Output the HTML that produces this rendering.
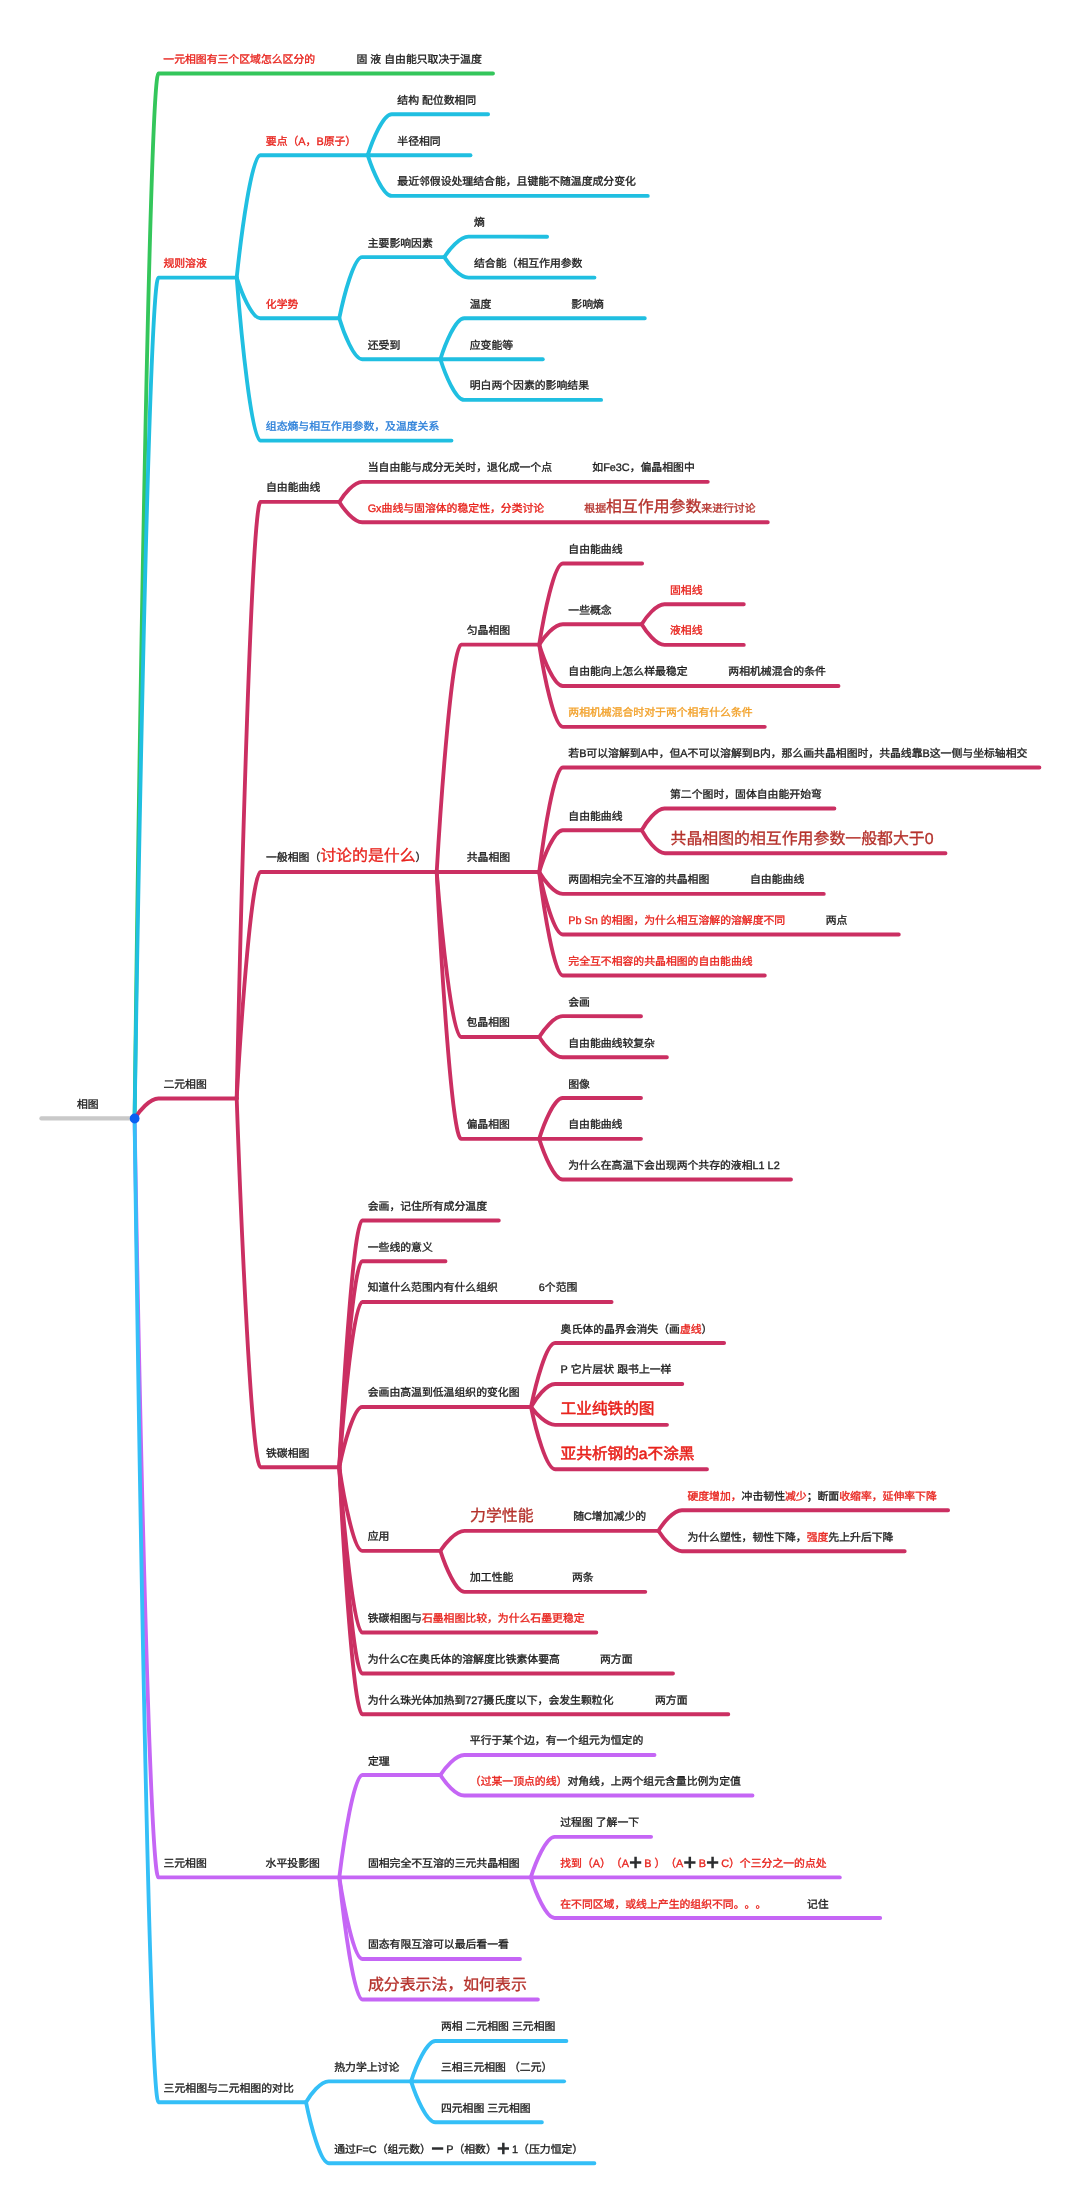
<!DOCTYPE html>
<html lang="zh-CN">
<head>
<meta charset="utf-8">
<title>相图</title>
<style>
html,body{margin:0;padding:0;background:#fff}
body{width:1080px;height:2204px;position:relative;overflow:hidden;font-family:"Liberation Sans",sans-serif;font-size:10.85px;color:#1c1c1c;text-rendering:geometricPrecision;text-spacing-trim:space-all;font-kerning:none}
svg{position:absolute;left:0;top:0}
#labels{position:absolute;left:0;top:0;width:1080px;height:2204px;will-change:transform}
path{fill:none;stroke-width:3.85;stroke-linecap:round;stroke-linejoin:round}
.t{position:absolute;white-space:nowrap;text-align-last:justify;height:24px;line-height:24px;-webkit-text-stroke:.33px currentColor}
.t span{line-height:1px}
.g{font-size:15.9px}
.t span.b{font-size:15.65px;-webkit-text-stroke:.55px currentColor}
.t span.s{display:inline-block;width:15.3px;text-align:center;font-weight:bold;font-size:22.5px;position:relative;top:3.6px;-webkit-text-stroke:0;color:#2b2d2f}
.r{color:#e8231d}.d{color:#b5322c}.u{color:#2b7fd9}.o{color:#f2a12a}.k{color:#1c1c1c}
</style>
</head>
<body>
<svg width="1080" height="2204" viewBox="0 0 1080 2204">
<g stroke="#34c65b">
<path d="M134.6 1118.5C139.2 742.3 149.7 73.5 158.4 73.5H493"/>
</g>
<g stroke="#20bfe1">
<path d="M134.6 1118.5C139.2 815.7 149.7 277.6 158.4 277.6H236.7"/>
<path d="M236.7 277.6C241.3 233.5 251.7 155.2 260.3 155.2H367.7"/>
<path d="M367.7 155.2C372.4 140.5 383 114.2 391.8 114.2H488.1"/>
<path d="M367.7 155.2L391.8 155.2H470.5"/>
<path d="M367.7 155.2C372.4 169.9 383 195.9 391.8 195.9H647.8"/>
<path d="M236.7 277.6C241.3 292.2 251.7 318.2 260.3 318.2H339.3"/>
<path d="M339.3 318.2C343.7 296.3 353.9 257.1 362.2 257.1H444.3"/>
<path d="M444.3 257.1C449 249.8 459.7 236.7 468.5 236.7H547.1"/>
<path d="M444.3 257.1C449 264.5 459.7 277.6 468.5 277.6H594.5"/>
<path d="M339.3 318.2C343.7 333 353.9 359.2 362.2 359.2H440.4"/>
<path d="M440.4 359.2C445 344.5 455.5 318.2 464.2 318.2H644.8"/>
<path d="M440.4 359.2L464.2 359.2H542.8"/>
<path d="M440.4 359.2C445 373.9 455.5 399.9 464.2 399.9H601.1"/>
<path d="M236.7 277.6C241.3 336.3 251.7 440.6 260.3 440.6H451.5"/>
</g>
<g stroke="#cb2f62">
<path d="M134.6 1118.5C139.2 1111.2 149.7 1098.5 158.4 1098.5H236.7"/>
<path d="M236.7 1098.5C241.3 883.7 251.8 501.9 260.5 501.9H339.3"/>
<path d="M339.3 501.9C343.7 494.7 353.9 481.8 362.2 481.8H707.8"/>
<path d="M339.3 501.9C343.7 509.3 353.9 522.2 362.2 522.2H767.8"/>
<path d="M236.7 1098.5C241.3 1016.9 251.8 872 260.5 872H436.7"/>
<path d="M436.7 872C441.5 790.1 452.3 644.6 461.2 644.6H539.2"/>
<path d="M539.2 644.6C543.8 615.5 554.2 563.5 562.8 563.5H642.1"/>
<path d="M539.2 644.6C543.8 637.3 554.2 624.2 562.8 624.2H641.7"/>
<path d="M641.7 624.2C646.1 617 656.2 604.2 664.5 604.2H743.8"/>
<path d="M641.7 624.2C646.1 631.7 656.2 644.9 664.5 644.9H743.8"/>
<path d="M539.2 644.6C543.8 659.6 554.2 686 562.8 686H838.5"/>
<path d="M539.2 644.6C543.8 674.2 554.2 726.8 562.8 726.8H764.8"/>
<path d="M436.7 872L461.2 872H539.2"/>
<path d="M539.2 872C543.8 834.4 554.2 767.5 562.8 767.5H1039.4"/>
<path d="M539.2 872C543.8 856.9 554.2 830.2 562.8 830.2H641.7"/>
<path d="M641.7 830.2C646.1 822.4 656.2 808.5 664.5 808.5H834.4"/>
<path d="M641.7 830.2C646.2 838.5 656.5 853.2 665 853.2H945.5"/>
<path d="M539.2 872C543.8 879.8 554.2 893.9 562.8 893.9H823.8"/>
<path d="M539.2 872C543.8 894.5 554.2 934.5 562.8 934.5H898.8"/>
<path d="M539.2 872C543.8 909.2 554.2 975.5 562.8 975.5H764.8"/>
<path d="M436.7 872C441.4 931.4 452.2 1037 461 1037H539.2"/>
<path d="M539.2 1037C543.8 1029.5 554.1 1016.2 562.7 1016.2H641"/>
<path d="M539.2 1037C543.8 1044.3 554.1 1057.2 562.7 1057.2H666.9"/>
<path d="M436.7 872C441.4 968 452.2 1138.8 461 1138.8H539.2"/>
<path d="M539.2 1138.8C543.8 1124.1 554.1 1098 562.7 1098H641"/>
<path d="M539.2 1138.8L562.7 1138.8H641"/>
<path d="M539.2 1138.8C543.8 1153.4 554.1 1179.5 562.7 1179.5H791"/>
<path d="M236.7 1098.5C241.3 1231.2 251.8 1467.2 260.5 1467.2H339.3"/>
<path d="M339.3 1467.2C343.7 1378.4 353.9 1220.5 362.2 1220.5H498.8"/>
<path d="M339.3 1467.2C343.7 1393.1 353.9 1261.2 362.2 1261.2H445.5"/>
<path d="M339.3 1467.2C343.7 1407.7 353.9 1302 362.2 1302H611.6"/>
<path d="M339.3 1467.2C343.7 1445.5 353.9 1407 362.2 1407H531"/>
<path d="M531 1407C535.7 1383.9 546.3 1343 555.1 1343H724.1"/>
<path d="M531 1407C535.7 1398.7 546.3 1384 555.1 1384H682.3"/>
<path d="M531 1407C535.7 1413.4 546.3 1424.8 555.1 1424.8H667"/>
<path d="M531 1407C535.7 1429.4 546.3 1469.2 555.1 1469.2H707"/>
<path d="M339.3 1467.2C343.7 1497.3 353.9 1550.8 362.2 1550.8H440.4"/>
<path d="M440.4 1550.8C445.1 1543.5 455.7 1530.8 464.5 1530.8H658.4"/>
<path d="M658.4 1530.8C663 1523.4 673.3 1510.2 681.9 1510.2H948.1"/>
<path d="M658.4 1530.8C663 1538.1 673.3 1551.2 681.9 1551.2H904.7"/>
<path d="M440.4 1550.8C445.1 1565.5 455.7 1591.8 464.5 1591.8H645.3"/>
<path d="M339.3 1467.2C343.7 1526.7 353.9 1632.5 362.2 1632.5H596.3"/>
<path d="M339.3 1467.2C343.7 1541.5 353.9 1673.5 362.2 1673.5H673"/>
<path d="M339.3 1467.2C343.7 1556.2 353.9 1714.2 362.2 1714.2H728.3"/>
</g>
<g stroke="#c566f5">
<path d="M134.6 1118.5C139.2 1391.7 149.7 1877.4 158.4 1877.4H339.3"/>
<path d="M339.3 1877.4C343.8 1840.6 354 1775 362.4 1775H440.4"/>
<path d="M440.4 1775C445 1767.8 455.6 1755 464.3 1755H654.5"/>
<path d="M440.4 1775C445 1782.4 455.6 1795.5 464.3 1795.5H752.5"/>
<path d="M339.3 1877.4L362.4 1877.4H530.8"/>
<path d="M530.8 1877.4C535.4 1862.8 546 1836.8 554.7 1836.8H651.1"/>
<path d="M530.8 1877.4L554.7 1877.4H839.8"/>
<path d="M530.8 1877.4C535.4 1892 546 1918 554.7 1918H880.2"/>
<path d="M339.3 1877.4C343.8 1906.8 354 1959 362.4 1959H520"/>
<path d="M339.3 1877.4C343.8 1921.3 354 1999.5 362.4 1999.5H537.9"/>
</g>
<g stroke="#34bff7">
<path d="M134.6 1118.5C139.2 1472.6 149.7 2102.2 158.4 2102.2H306"/>
<path d="M306 2102.2C310.4 2094.7 320.4 2081.3 328.7 2081.3H411.1"/>
<path d="M411.1 2081.3C415.8 2066.8 426.6 2041 435.4 2041H566.4"/>
<path d="M411.1 2081.3L435.4 2081.3H564.1"/>
<path d="M411.1 2081.3C415.8 2096.1 426.6 2122.2 435.4 2122.2H541.9"/>
<path d="M306 2102.2C310.4 2124.2 320.4 2163.2 328.7 2163.2H594.4"/>
</g>
<path d="M41.4 1118.45H134.6" style="stroke:#c9c9c9;stroke-width:4.2"/>
<circle cx="134.65" cy="1118.5" r="4.9" fill="#0a5ff2"/>
</svg>
<div id="labels">
<div class="t" style="left:77px;top:1092.9px">相图</div>
<div class="t" style="left:163.3px;top:47.9px;width:151.82px"><span class="r">一元相图有三个区域怎么区分的</span></div>
<div class="t" style="left:356.5px;top:47.9px;width:125.32px">固 液 自由能只取决于温度</div>
<div class="t" style="left:163.4px;top:252px;width:43.38px"><span class="r">规则溶液</span></div>
<div class="t" style="left:265.8px;top:129.7px;width:90.38px"><span class="r">要点（A，B原子）</span></div>
<div class="t" style="left:397.3px;top:88.7px;width:78.93px">结构 配位数相同</div>
<div class="t" style="left:397.3px;top:129.7px;width:43.38px">半径相同</div>
<div class="t" style="left:397.3px;top:170.3px;width:238.57px">最近邻假设处理结合能，且键能不随温度成分变化</div>
<div class="t" style="left:265.8px;top:292.6px;width:32.54px"><span class="r">化学势</span></div>
<div class="t" style="left:367.7px;top:231.5px;width:65.07px">主要影响因素</div>
<div class="t" style="left:474px;top:211.1px;width:10.85px">熵</div>
<div class="t" style="left:474px;top:252px;width:108.44px">结合能（相互作用参数</div>
<div class="t" style="left:367.7px;top:333.6px;width:32.54px">还受到</div>
<div class="t" style="left:469.7px;top:292.6px;width:21.69px">温度</div>
<div class="t" style="left:571.3px;top:292.6px;width:32.54px">影响熵</div>
<div class="t" style="left:469.7px;top:333.6px;width:43.38px">应变能等</div>
<div class="t" style="left:469.7px;top:374.3px;width:119.29px">明白两个因素的影响结果</div>
<div class="t" style="left:265.8px;top:415px;width:173.5px"><span class="u">组态熵与相互作用参数，及温度关系</span></div>
<div class="t" style="left:163.4px;top:1072.9px;width:43.38px">二元相图</div>
<div class="t" style="left:266px;top:476.3px;width:54.22px">自由能曲线</div>
<div class="t" style="left:367.7px;top:456.1px;width:184.35px">当自由能与成分无关时，退化成一个点</div>
<div class="t" style="left:592.3px;top:456.1px;width:102.44px">如Fe3C，偏晶相图中</div>
<div class="t" style="left:367.7px;top:496.6px;width:176.52px"><span class="r">Gx曲线与固溶体的稳定性，分类讨论</span></div>
<div class="t" style="left:584.3px;top:496.6px;width:171.25px"><span class="d">根据</span><span class="g d">相互作用参数</span><span class="d">来进行讨论</span></div>
<div class="t" style="left:266px;top:846.4px;width:160.41px">一般相图（<span class="g r">讨论的是什么</span>）</div>
<div class="t" style="left:466.7px;top:619px;width:43.38px">匀晶相图</div>
<div class="t" style="left:568.3px;top:537.9px;width:54.22px">自由能曲线</div>
<div class="t" style="left:568.3px;top:598.6px;width:43.38px">一些概念</div>
<div class="t" style="left:670px;top:578.6px;width:32.54px"><span class="r">固相线</span></div>
<div class="t" style="left:670px;top:619.2px;width:32.54px"><span class="r">液相线</span></div>
<div class="t" style="left:568.3px;top:660.4px;width:119.29px">自由能向上怎么样最稳定</div>
<div class="t" style="left:728.3px;top:660.4px;width:97.6px">两相机械混合的条件</div>
<div class="t" style="left:568.3px;top:701.1px;width:184.35px"><span class="o">两相机械混合时对于两个相有什么条件</span></div>
<div class="t" style="left:466.7px;top:846.4px;width:43.38px">共晶相图</div>
<div class="t" style="left:568.3px;top:741.9px;width:459.08px">若B可以溶解到A中，但A不可以溶解到B内，那么画共晶相图时，共晶线靠B这一侧与坐标轴相交</div>
<div class="t" style="left:568.3px;top:804.6px;width:54.22px">自由能曲线</div>
<div class="t" style="left:670px;top:782.9px;width:151.82px">第二个图时，固体自由能开始弯</div>
<div class="t" style="left:670.5px;top:828.8px;width:263.1px"><span class="g d">共晶相图的相互作用参数一般都大于0</span></div>
<div class="t" style="left:568.3px;top:868.2px;width:140.97px">两固相完全不互溶的共晶相图</div>
<div class="t" style="left:750px;top:868.2px;width:54.22px">自由能曲线</div>
<div class="t" style="left:568.3px;top:908.9px;width:216.91px"><span class="r">Pb Sn 的相图，为什么相互溶解的溶解度不同</span></div>
<div class="t" style="left:825.7px;top:908.9px;width:21.69px">两点</div>
<div class="t" style="left:568.3px;top:949.9px;width:184.35px"><span class="r">完全互不相容的共晶相图的自由能曲线</span></div>
<div class="t" style="left:466.5px;top:1011.4px;width:43.38px">包晶相图</div>
<div class="t" style="left:568.2px;top:990.6px;width:21.69px">会画</div>
<div class="t" style="left:568.2px;top:1031.7px;width:86.75px">自由能曲线较复杂</div>
<div class="t" style="left:466.5px;top:1113.2px;width:43.38px">偏晶相图</div>
<div class="t" style="left:568.2px;top:1072.5px;width:21.69px">图像</div>
<div class="t" style="left:568.2px;top:1113.2px;width:54.22px">自由能曲线</div>
<div class="t" style="left:568.2px;top:1154px;width:211.49px">为什么在高温下会出现两个共存的液相L1 L2</div>
<div class="t" style="left:266px;top:1441.7px;width:43.38px">铁碳相图</div>
<div class="t" style="left:367.7px;top:1195px;width:119.29px">会画，记住所有成分温度</div>
<div class="t" style="left:367.7px;top:1235.7px;width:65.07px">一些线的意义</div>
<div class="t" style="left:367.7px;top:1276.4px;width:130.13px">知道什么范围内有什么组织</div>
<div class="t" style="left:538.8px;top:1276.4px;width:38.57px">6个范围</div>
<div class="t" style="left:367.7px;top:1381.4px;width:151.82px">会画由高温到低温组织的变化图</div>
<div class="t" style="left:560.6px;top:1317.5px;width:151.82px">奥氏体的晶界会消失（画<span class="r">虚线</span>）</div>
<div class="t" style="left:560.6px;top:1358.4px;width:110.86px">P 它片层状 跟书上一样</div>
<div class="t" style="left:560.6px;top:1399px;width:93.86px"><span class="g b r">工业纯铁的图</span></div>
<div class="t" style="left:560.6px;top:1443.5px;width:133.83px"><span class="g b r">亚共析钢的a不涂黑</span></div>
<div class="t" style="left:367.7px;top:1525.2px;width:21.69px">应用</div>
<div class="t" style="left:470px;top:1506.2px;width:63.57px"><span class="g d">力学性能</span></div>
<div class="t" style="left:573.2px;top:1505.2px;width:72.91px">随C增加减少的</div>
<div class="t" style="left:687.4px;top:1484.7px;width:249.41px"><span class="r">硬度增加，</span>冲击韧性<span class="r">减少</span>；断面<span class="r">收缩率，延伸率下降</span></div>
<div class="t" style="left:687.4px;top:1525.6px;width:206.04px">为什么塑性，韧性下降，<span class="r">强度</span>先上升后下降</div>
<div class="t" style="left:470px;top:1566.2px;width:43.38px">加工性能</div>
<div class="t" style="left:572px;top:1566.2px;width:21.69px">两条</div>
<div class="t" style="left:367.7px;top:1606.9px;width:216.88px">铁碳相图与<span class="r">石墨相图比较，为什么石墨更稳定</span></div>
<div class="t" style="left:367.7px;top:1647.9px;width:192.19px">为什么C在奥氏体的溶解度比铁素体要高</div>
<div class="t" style="left:600px;top:1647.9px;width:32.54px">两方面</div>
<div class="t" style="left:367.7px;top:1688.7px;width:245.82px">为什么珠光体加热到727摄氏度以下，会发生颗粒化</div>
<div class="t" style="left:655px;top:1688.7px;width:32.54px">两方面</div>
<div class="t" style="left:163.4px;top:1851.8px;width:43.38px">三元相图</div>
<div class="t" style="left:265.6px;top:1851.8px;width:54.22px">水平投影图</div>
<div class="t" style="left:367.9px;top:1749.5px;width:21.69px">定理</div>
<div class="t" style="left:469.8px;top:1729.4px;width:173.5px">平行于某个边，有一个组元为恒定的</div>
<div class="t" style="left:469.8px;top:1769.9px;width:271.1px"><span class="r">（过某一顶点的线）</span>对角线，上两个组元含量比例为定值</div>
<div class="t" style="left:367.9px;top:1851.8px;width:151.82px">固相完全不互溶的三元共晶相图</div>
<div class="t" style="left:560.2px;top:1811.2px;width:78.93px">过程图 了解一下</div>
<div class="t" style="left:560.2px;top:1851.8px;width:266.43px"><span class="r">找到（A）（A</span><span class="s k">+</span><span class="r">B ）（A</span><span class="s k">+</span><span class="r">B</span><span class="s k">+</span><span class="r">C）个三分之一的点处</span></div>
<div class="t" style="left:560.2px;top:1892.5px;width:206.04px"><span class="r">在不同区域，或线上产生的组织不同。。。</span></div>
<div class="t" style="left:806.9px;top:1892.5px;width:21.69px">记住</div>
<div class="t" style="left:367.9px;top:1933.4px;width:140.97px">固态有限互溶可以最后看一看</div>
<div class="t" style="left:367.9px;top:1975px;width:158.91px"><span class="g d">成分表示法，如何表示</span></div>
<div class="t" style="left:163.6px;top:2076.7px;width:130.13px">三元相图与二元相图的对比</div>
<div class="t" style="left:334.2px;top:2055.8px;width:65.07px">热力学上讨论</div>
<div class="t" style="left:440.9px;top:2015.4px;width:114.47px">两相 二元相图 三元相图</div>
<div class="t" style="left:440.9px;top:2055.8px;width:111.46px">三相三元相图 （二元）</div>
<div class="t" style="left:440.9px;top:2096.7px;width:89.77px">四元相图 三元相图</div>
<div class="t" style="left:334.2px;top:2137.6px;width:249px">通过F=C（组元数）<span class="s k">−</span>P（相数）<span class="s k">+</span>1（压力恒定）</div>
</div>
</body>
</html>
